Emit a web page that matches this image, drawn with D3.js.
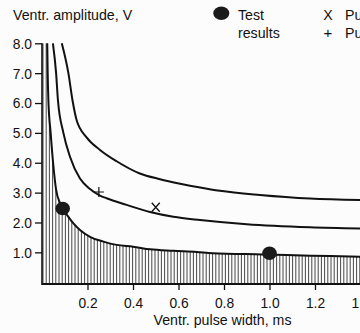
<!DOCTYPE html>
<html>
<head>
<meta charset="utf-8">
<script src="https://cdn.jsdelivr.net/npm/d3@7"></script>
<style>
  html, body { margin: 0; padding: 0; background: #fcfcfc; }
  svg { display: block; }
  text { font-family: "Liberation Sans", Arial, Helvetica, sans-serif; fill: #111; }
</style>
</head>
<body>
<svg id="chart" width="360" height="333"></svg>
<script>
// ---- data (pulse width in ms, amplitude in V) ----
const lowerWidth = [0.023, 0.025, 0.028, 0.038, 0.050, 0.062, 0.079, 0.091, 0.116, 0.138, 0.167, 0.211, 0.270, 0.328, 0.400, 0.475, 0.577, 0.680, 0.750, 0.970, 1.180, 1.400];
const lowerAmp   = [8.00, 7.00, 6.10, 5.00, 3.90, 3.10, 2.65, 2.47, 2.19, 1.97, 1.75, 1.52, 1.36, 1.25, 1.19, 1.10, 1.05, 1.01, 0.97, 0.93, 0.89, 0.85];

const middleWidth = [0.048, 0.062, 0.070, 0.094, 0.123, 0.167, 0.211, 0.255, 0.284, 0.372, 0.475, 0.577, 0.695, 0.900, 1.178, 1.400];
const middleAmp   = [8.00, 7.00, 6.10, 5.00, 4.20, 3.47, 3.12, 2.90, 2.81, 2.59, 2.35, 2.19, 2.08, 1.94, 1.84, 1.80];

const upperWidth = [0.087, 0.116, 0.135, 0.152, 0.196, 0.255, 0.328, 0.430, 0.519, 0.607, 0.695, 0.782, 0.958, 1.178, 1.400];
const upperAmp   = [8.00, 7.00, 6.05, 5.43, 4.85, 4.43, 4.05, 3.64, 3.45, 3.30, 3.17, 3.06, 2.92, 2.80, 2.75];

const testWidth = [0.091, 1.0];
const testAmp   = [2.47, 0.97];
const crossPoint = [0.50, 2.51];
const plusPoint  = [0.25, 3.02];

const xTicks = [0.2, 0.4, 0.6, 0.8, 1.0, 1.2, 1.4];
const yTicks = [1, 2, 3, 4, 5, 6, 7, 8];

const yTitle = "Ventr. amplitude, V";
const xTitle = "Ventr. pulse width, ms";
const legendDot = ["Test", "results"];
const legendSymbols = ["X", "+"];
const legendLabels = ["Pulse width threshold", "Pulse amplitude threshold"];

// ---- scales ----
const svg = d3.select("#chart");
const x = d3.scaleLinear().domain([0, 1.4]).range([42, 360.5]);
const y = d3.scaleLinear().domain([-0.06, 8]).range([284, 43.3]);

const zip = (a, b) => a.map((v, i) => [v, b[i]]);
const lower = zip(lowerWidth, lowerAmp);
const middle = zip(middleWidth, middleAmp);
const upper = zip(upperWidth, upperAmp);

const line = d3.line().x(d => x(d[0])).y(d => y(d[1])).curve(d3.curveMonotoneX);

// ---- hatched region under lower curve ----
const areaPts = [[0, 8]].concat(lower);
const area = d3.area().x(d => x(d[0])).y0(y(-0.06)).y1(d => y(d[1])).curve(d3.curveMonotoneX);
svg.append("clipPath").attr("id", "hatchClip")
  .append("path").attr("d", area(areaPts));

const hatchX = d3.range(x(0) + 1, 362, 3.2);
svg.append("g").attr("clip-path", "url(#hatchClip)")
  .selectAll("line").data(hatchX).join("line")
  .attr("x1", d => d).attr("x2", d => d)
  .attr("y1", y(8)).attr("y2", y(-0.06))
  .attr("stroke", "#333").attr("stroke-width", 0.9);

// ---- axes ----
const yAxis = d3.axisLeft(y).tickValues(yTicks).tickFormat(d3.format(".1f"))
  .tickSize(7).tickSizeOuter(0).tickPadding(3);
const gy = svg.append("g").attr("transform", `translate(${x(0)},0)`).call(yAxis);
gy.select(".domain").remove();
gy.selectAll(".tick line").attr("stroke", "#111").attr("stroke-width", 1.3);
gy.selectAll(".tick text").attr("font-size", 13.8).attr("fill", "#111").attr("dy", "0.36em");

svg.append("line").attr("x1", x(0)).attr("x2", x(0))
  .attr("y1", y(8)).attr("y2", y(-0.06) + 1)
  .attr("stroke", "#111").attr("stroke-width", 1.6);

const gx = svg.append("g").attr("transform", `translate(0,${y(-0.06)})`)
  .call(d3.axisBottom(x).tickValues(xTicks).tickFormat(d3.format(".1f"))
    .tickSize(6).tickSizeOuter(0).tickPadding(8));
gx.select(".domain").remove();
gx.selectAll(".tick line").attr("stroke", "#111").attr("stroke-width", 1.3);
gx.selectAll(".tick text").attr("font-size", 13.8).attr("fill", "#111");

svg.append("line").attr("x1", x(0)).attr("x2", 360)
  .attr("y1", y(-0.06)).attr("y2", y(-0.06))
  .attr("stroke", "#111").attr("stroke-width", 2);

// ---- curves ----
[lower, middle, upper].forEach(c => {
  svg.append("path").attr("d", line(c)).attr("fill", "none")
    .attr("stroke", "#111").attr("stroke-width", 2);
});

// ---- markers ----
svg.selectAll("ellipse.test").data(zip(testWidth, testAmp)).join("ellipse")
  .attr("class", "test")
  .attr("cx", d => x(d[0])).attr("cy", d => y(d[1]))
  .attr("rx", 7.3).attr("ry", 6.8).attr("fill", "#1a1a1a");

const cx = x(crossPoint[0]), cy = y(crossPoint[1]);
svg.append("path")
  .attr("d", `M${cx-4},${cy-4.5}L${cx+4},${cy+4.5}M${cx-4},${cy+4.5}L${cx+4},${cy-4.5}`)
  .attr("stroke", "#111").attr("stroke-width", 1.3).attr("fill", "none");

const px = x(plusPoint[0]), py = y(plusPoint[1]);
svg.append("path")
  .attr("d", `M${px-5},${py}L${px+5},${py}M${px},${py-5}L${px},${py+5}`)
  .attr("stroke", "#111").attr("stroke-width", 1.2).attr("fill", "none");

// ---- titles ----
svg.append("text").attr("x", 13).attr("y", 19.5).attr("font-size", 14.2).text(yTitle);
svg.append("text").attr("x", 222.5).attr("y", 325).attr("font-size", 14.2)
  .attr("text-anchor", "middle").text(xTitle);

// ---- legend ----
svg.append("ellipse").attr("cx", 221.3).attr("cy", 13.3).attr("rx", 8).attr("ry", 6.7).attr("fill", "#1a1a1a");
svg.append("text").attr("x", 238).attr("y", 19.5).attr("font-size", 14.2).text(legendDot[0]);
svg.append("text").attr("x", 238).attr("y", 38).attr("font-size", 14.2).text(legendDot[1]);
svg.append("text").attr("x", 328).attr("y", 19.5).attr("font-size", 14.2).attr("text-anchor", "middle").text(legendSymbols[0]);
svg.append("text").attr("x", 328).attr("y", 38).attr("font-size", 15).attr("text-anchor", "middle").attr("font-weight", 300).text(legendSymbols[1]);
svg.append("text").attr("x", 345).attr("y", 19.5).attr("font-size", 14.2).text(legendLabels[0]);
svg.append("text").attr("x", 345).attr("y", 38).attr("font-size", 14.2).text(legendLabels[1]);
</script>
</body>
</html>
